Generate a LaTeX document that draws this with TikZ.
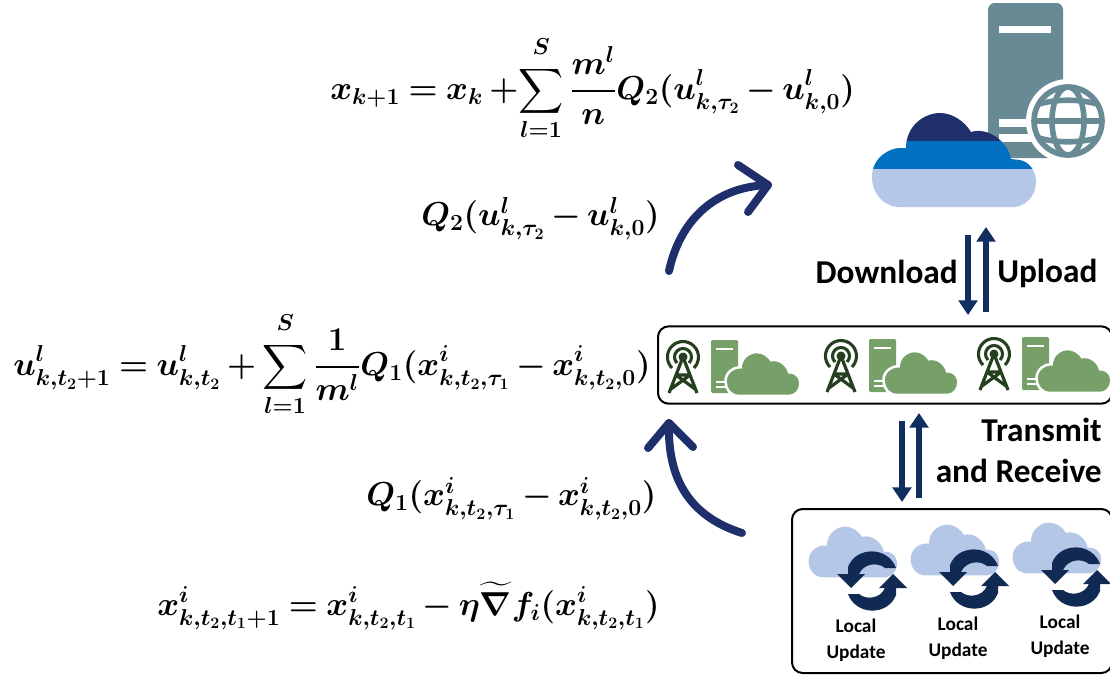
\documentclass[tikz,border=0pt]{standalone}
\usepackage{amsmath,amssymb}
\usepackage{fontspec}
\setmainfont{Carlito}
\usetikzlibrary{arrows.meta}

\definecolor{navy}{RGB}{31,47,107}
\definecolor{darkline}{RGB}{16,46,94}
\definecolor{syncblue}{RGB}{16,42,84}
\definecolor{midblue}{RGB}{0,112,192}
\definecolor{paleblue}{RGB}{180,199,231}
\definecolor{slate}{RGB}{104,138,148}
\definecolor{leaf}{RGB}{118,160,104}
\definecolor{darkleaf}{RGB}{36,64,30}

\newcommand{\cloudpath}{(-45,47) .. controls (-62,47) and (-73,33) .. (-73,17)
  .. controls (-73,-3) and (-55,-12) .. (-45,-12) -- (-39,-12)
  .. controls (-39,-35) and (-20,-47) .. (-5,-47) .. controls (8,-47) and (20,-38) .. (26,-28)
  .. controls (42,-33) and (62,-20) .. (66,-1) -- (75,0)
  .. controls (85,2) and (91,12) .. (91,22) .. controls (91,36) and (80,47) .. (68,47) -- cycle}
\newcommand{\toplimit}{S\rule[-6pt]{0pt}{0pt}}
\newcommand{\eqnfont}{\fontsize{23.5}{28}\selectfont\boldmath\thickmuskip 4mu\relax\medmuskip 3mu\relax}

\tikzset{
  x=0.75pt, y=-0.75pt,
  eqn/.style={inner sep=0pt, font=\eqnfont},
  lbl/.style={inner sep=0pt, font=\fontsize{25}{30}\selectfont\bfseries, align=center},
  small lbl/.style={inner sep=0pt, font=\fontsize{14.5}{19.5}\selectfont\bfseries, align=center},
  box/.style={draw=black, line width=1.5pt, rounded corners=8pt, fill=white, inner sep=0pt},
  bigarrow/.style={line width=6pt, navy, line cap=round, line join=round},
  linkarrow/.style={line width=4.5pt, darkline, -{Triangle[length=11pt,width=14pt]}},
  pics/palecloud/.style={code={
    \begin{scope}[scale=0.54]
      \fill[paleblue] \cloudpath;
    \end{scope}
  }},
  pics/station/.style={code={
    % tower
    \draw[darkleaf, line width=2.3pt] (-28,3) arc (135:405:15.5);
    \draw[darkleaf, line width=2.3pt] (-23,-2) arc (135:405:8.5);
    \fill[darkleaf] (-17,-8) circle (4.5);
    \draw[darkleaf, line width=2.4pt, line join=round] (-31,28) -- (-17,-8) -- (-3,28)
      (-24,10) -- (-10,10) -- (-29,24) (-24,10) -- (-5,24);
    % server
    \fill[leaf, rounded corners=1pt] (11,-25) rectangle (38,28);
    \fill[white] (16,-17) rectangle (33,-15);
    \fill[white] (16,16) rectangle (27,18);
    \fill[white] (16,21) rectangle (27,23);
    % cloud
    \begin{scope}[shift={(59,9)},scale=0.44]
      \fill[white, draw=white, line width=4pt] \cloudpath;
      \fill[leaf] \cloudpath;
    \end{scope}
  }},
  pics/sync/.style={code={
    \foreach \r in {0,180} {
      \fill[syncblue, rotate=\r] (24,-13) .. controls (16,-35) and (-16,-35) .. (-24,-14)
        -- (-24,-7) -- (-35,-7) -- (-21,7) -- (-7,-7) -- (-13,-7)
        .. controls (-8,-18) and (6,-19) .. (13,-13) -- cycle;
    }
  }},
}

\begin{document}
\begin{tikzpicture}
    \useasboundingbox (0,0) rectangle (1110,675);

    % Equations
    \node[eqn, anchor=west] (eqglobal) at (330,88) {$\displaystyle x_{k+1}=x_k+\!\sum_{l=1}^{\toplimit}\frac{m^l}{n}Q_2(u^l_{k,\tau_2}-u^l_{k,0})$};
    \node[eqn, anchor=west] (qtwo) at (421,219) {$Q_2(u^l_{k,\tau_2}-u^l_{k,0})$};
    \node[eqn, anchor=west] (eqedge) at (13,364) {$\displaystyle u^l_{k,t_2+1}=u^l_{k,t_2}+\sum_{l=1}^{\toplimit}\frac{1}{m^l}Q_1(x^i_{k,t_2,\tau_1}-x^i_{k,t_2,0})$};
    \node[eqn, anchor=west] (qone) at (366,499) {$Q_1(x^i_{k,t_2,\tau_1}-x^i_{k,t_2,0})$};
    \node[eqn, anchor=west] (eqlocal) at (157,606) {$x^i_{k,t_2,t_1+1}=x^i_{k,t_2,t_1}-\eta\widetilde{\nabla}f_i(x^i_{k,t_2,t_1})$};

    % Cloud server
    \fill[slate, rounded corners=5pt] (988,3) rectangle (1063,158);
    \fill[white] (999,26) rectangle (1051,33);
    \fill[white] (999,119) rectangle (1040,127);
    \fill[white] (999,134) rectangle (1040,142);
    \fill[white] (1068,121) circle (42);
    \begin{scope}[shift={(1068,121)}]
      \draw[slate, line width=4.2pt] (0,0) circle (34);
      \draw[slate, line width=4.2pt] (0,0) ellipse (16 and 34);
      \draw[slate, line width=4.2pt] (-34,0) -- (34,0);
      \draw[slate, line width=4.2pt] (-29,-17) .. controls (-12,-22) and (12,-22) .. (29,-17);
      \draw[slate, line width=4.2pt] (-29,17) .. controls (-12,22) and (12,22) .. (29,17);
    \end{scope}
    \begin{scope}[shift={(945,160)}]
      \begin{scope}
        \clip (-90,-60) rectangle (100,-19);
        \fill[navy] \cloudpath;
      \end{scope}
      \begin{scope}
        \clip (-90,-19) rectangle (100,9);
        \fill[midblue] \cloudpath;
      \end{scope}
      \begin{scope}
        \clip (-90,9) rectangle (100,60);
        \fill[paleblue] \cloudpath;
      \end{scope}
    \end{scope}

    % Edge servers
    \node[box, minimum width=340.5pt, minimum height=58pt] (edgebox) at (885,365) {};
    \pic at (700,365) {station};
    \pic at (858,364) {station};
    \pic at (1011,362) {station};

    % Local clients
    \node[box, minimum width=240pt, minimum height=123pt] (clientbox) at (952,591) {};
    \pic at (848,552) {palecloud};
    \pic at (950,550) {palecloud};
    \pic at (1052,548) {palecloud};
    \pic at (872,581) {sync};
    \pic at (974,579) {sync};
    \pic at (1076,577) {sync};
    \node[small lbl] (updatea) at (856,640) {Local\\Update};
    \node[small lbl] (updateb) at (958,638) {Local\\Update};
    \node[small lbl] (updatec) at (1060,636) {Local\\Update};

    % Labels
    \node[lbl, anchor=east] (download) at (958,272) {Download};
    \node[lbl, anchor=west] (upload) at (997,273) {Upload};
    \node[lbl, anchor=east] (transmit) at (1102,430) {Transmit};
    \node[lbl, anchor=east] (receive) at (1102,471) {and Receive};

    % Link ends
    \coordinate (downtop) at (968,235);
    \coordinate (downend) at (968,315);
    \coordinate (upstart) at (986,312);
    \coordinate (uptop) at (986,227);
    \coordinate (rxtop) at (902,421);
    \coordinate (rxend) at (902,502);
    \coordinate (txstart) at (919,498);
    \coordinate (txtop) at (919,413);
    \coordinate (arrowonestart) at (742,533);
    \coordinate (arrowoneend) at (669,423);
    \coordinate (arrowonea) at (648,448);
    \coordinate (arrowoneb) at (693,447);
    \coordinate (arrowtwostart) at (669,271);
    \coordinate (arrowtwoend) at (768,185);
    \coordinate (arrowtwoa) at (738,165);
    \coordinate (arrowtwob) at (748,212);

    % Arrows
    \draw[linkarrow] (downtop) -- (downend);
    \draw[linkarrow] (upstart) -- (uptop);
    \draw[linkarrow] (rxtop) -- (rxend);
    \draw[linkarrow] (txstart) -- (txtop);
    \draw[bigarrow] (arrowonestart) .. controls (695,518) and (667,485) .. (arrowoneend);
    \draw[bigarrow] (arrowonea) -- (arrowoneend) -- (arrowoneb);
    \draw[bigarrow] (arrowtwostart) .. controls (680,220) and (715,187) .. (arrowtwoend);
    \draw[bigarrow] (arrowtwoa) -- (arrowtwoend) -- (arrowtwob);
\end{tikzpicture}
\end{document}
